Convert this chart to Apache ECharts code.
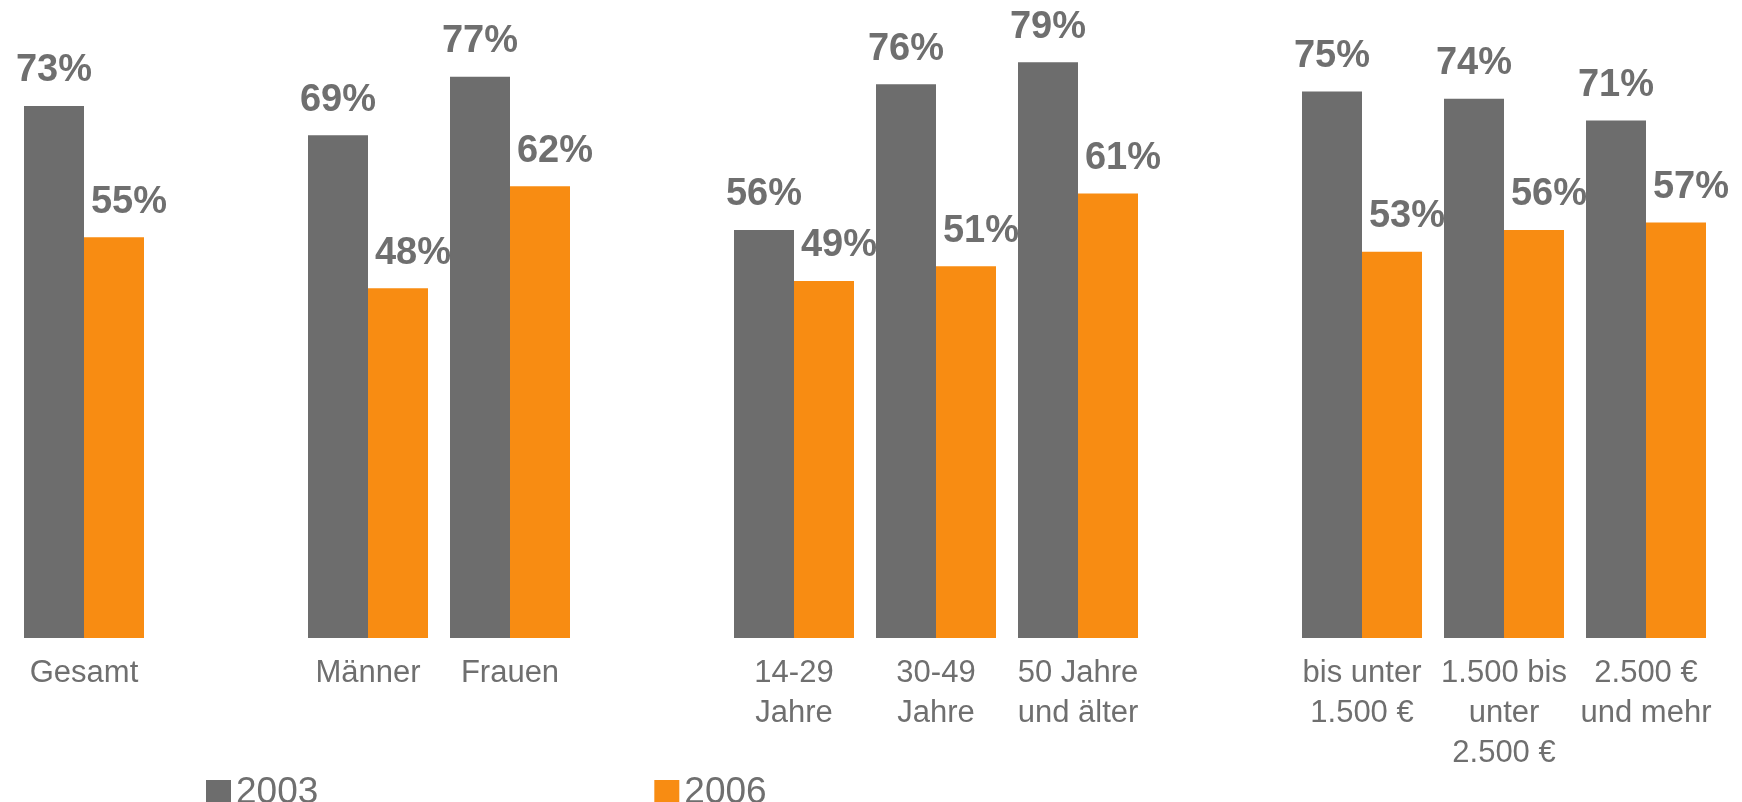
<!DOCTYPE html>
<html>
<head>
<meta charset="utf-8">
<script src="https://cdn.jsdelivr.net/npm/echarts@6/dist/echarts.min.js"></script>
<style>
html,body{margin:0;padding:0;background:#fff;}
#chart{width:1742px;height:802px;}
</style>
</head>
<body>
<div id="chart"></div>
<script>
const categories = ['Gesamt', '', 'Männer', 'Frauen', '', '14-29\nJahre', '30-49\nJahre', '50 Jahre\nund älter', '', 'bis unter\n1.500 €', '1.500 bis\nunter\n2.500 €', '2.500 €\nund mehr'];
const values2003 = [73, '-', 69, 77, '-', 56, 76, 79, '-', 75, 74, 71];
const values2006 = [55, '-', 48, 62, '-', 49, 51, 61, '-', 53, 56, 57];
const seriesNames = ['2003', '2006'];

const GRAY = '#6d6d6d';
const ORANGE = '#f88c12';
const TEXT = '#6f6f6f';
const FONT = '"Liberation Sans", Arial, sans-serif';

const chart = echarts.init(document.getElementById('chart'), null, {renderer: 'canvas'});
chart.setOption({
  animation: false,
  backgroundColor: '#ffffff',
  textStyle: {fontFamily: FONT},
  grid: {left: 13, right: 25, top: 55, bottom: 164, containLabel: false},
  legend: {
    data: seriesNames,
    left: 201,
    top: 769,
    icon: 'rect',
    itemWidth: 25,
    itemHeight: 25,
    itemGap: 336,
    textStyle: {fontSize: 37, color: TEXT, fontFamily: FONT, lineHeight: 37}
  },
  xAxis: {
    type: 'category',
    data: categories,
    axisLine: {show: false},
    axisTick: {show: false},
    axisLabel: {
      interval: 0,
      fontSize: 31,
      lineHeight: 40,
      color: TEXT,
      margin: 15,
      fontFamily: FONT
    }
  },
  yAxis: {
    type: 'value',
    min: 0,
    max: 80,
    show: false,
    splitLine: {show: false}
  },
  series: [
    {
      name: seriesNames[0],
      type: 'bar',
      data: values2003,
      barWidth: 60,
      barGap: '0%',
      itemStyle: {color: GRAY},
      label: {
        show: true,
        position: 'top',
        distance: 16,
        formatter: '{c}%',
        fontSize: 38,
        fontWeight: 'bold',
        color: TEXT,
        fontFamily: FONT
      }
    },
    {
      name: seriesNames[1],
      type: 'bar',
      data: values2006,
      barWidth: 60,
      barGap: '0%',
      itemStyle: {color: ORANGE},
      label: {
        show: true,
        position: 'top',
        distance: 16,
        offset: [15, 0],
        formatter: '{c}%',
        fontSize: 38,
        fontWeight: 'bold',
        color: TEXT,
        fontFamily: FONT
      }
    }
  ]
});
</script>
</body>
</html>
